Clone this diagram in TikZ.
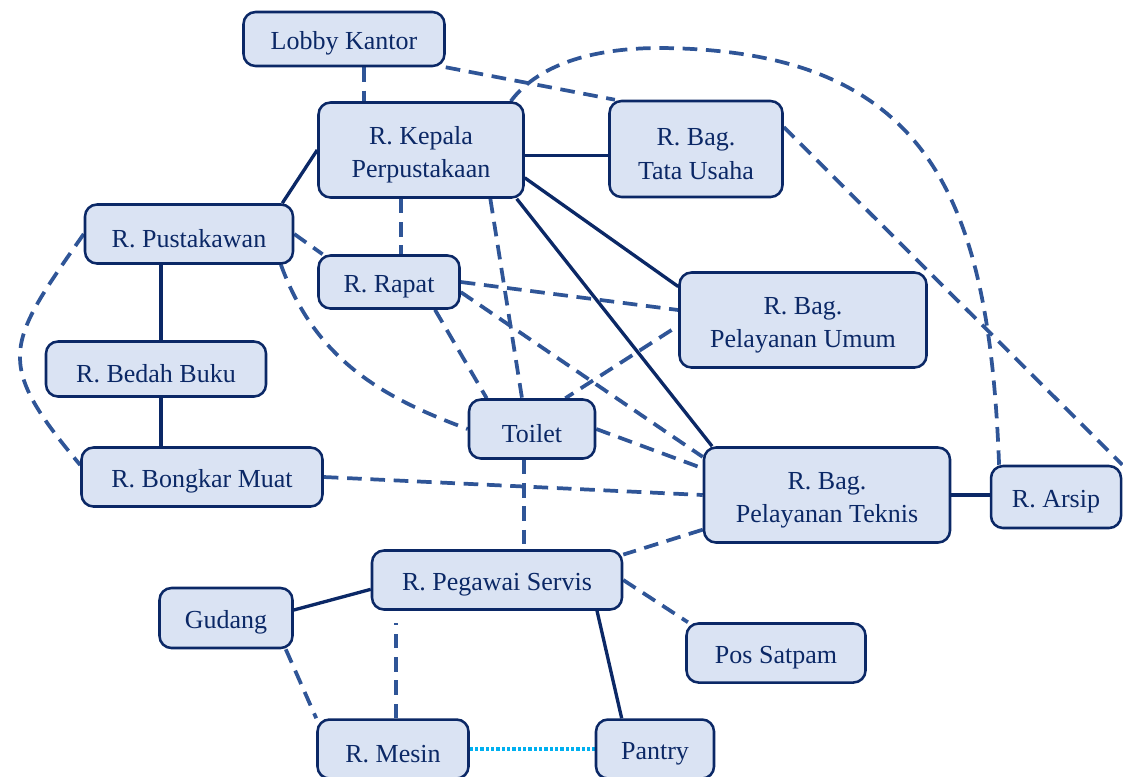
\documentclass[tikz,border=0pt]{standalone}
\usepackage{fontspec}
\setmainfont{Liberation Serif}
\usetikzlibrary{backgrounds}

\definecolor{roomfill}{HTML}{DAE3F3}
\definecolor{roomline}{HTML}{0B2866}
\definecolor{linkblue}{HTML}{2F5597}
\definecolor{linkcyan}{HTML}{00B0F0}

% Strut that lowers the text a little in its box
\newcommand{\roomstrut}{\rule{0pt}{20.5pt}}

\tikzset{
  room/.style 2 args={draw=roomline, fill=roomfill, text=roomline, line width=1.9pt,
    rounded corners=9pt, minimum width=#1, minimum height=#2, inner sep=0pt,
    align=center, font=\fontsize{19.5}{25}\selectfont},
  solidlink/.style={draw=roomline, line width=2.5pt},
  dashlink/.style={draw=linkblue, line width=2.8pt, dash pattern=on 11pt off 6.5pt},
  dotlink/.style={draw=linkcyan, line width=2.8pt, dash pattern=on 2.5pt off 1.5pt},
}

\begin{document}
\begin{tikzpicture}[x=0.75pt, y=-0.75pt]

% Page frame
\clip (0,0) rectangle (1123,776);

% Rooms
\node[room={150.75pt}{40.5pt}] (lobby) at (344,39) {\roomstrut Lobby Kantor};
\node[room={153.75pt}{71.25pt}] (kepala) at (421,150) {\roomstrut R. Kepala\\Perpustakaan};
\node[room={129.75pt}{72pt}] (tu) at (696,149) {\roomstrut R. Bag.\\Tata Usaha};
\node[room={156pt}{44.25pt}] (pustakawan) at (189,234) {\roomstrut R. Pustakawan};
\node[room={105.75pt}{39.75pt}] (rapat) at (389,282) {\roomstrut R. Rapat};
\node[room={185.25pt}{71.25pt}] (umum) at (803,320) {\roomstrut R. Bag.\\Pelayanan Umum};
\node[room={165pt}{41.25pt}] (bedah) at (156,369) {\roomstrut R. Bedah Buku};
\node[room={94.5pt}{44.25pt}] (toilet) at (532,429) {\roomstrut Toilet};
\node[room={180.75pt}{44.25pt}] (bongkar) at (202,477) {\roomstrut R. Bongkar Muat};
\node[room={184.5pt}{71.25pt}] (teknis) at (827,495) {\roomstrut R. Bag.\\Pelayanan Teknis};
\node[room={97.5pt}{46.5pt}] (arsip) at (1056,497) {\roomstrut R. Arsip};
\node[room={187.5pt}{44.25pt}] (servis) at (497,580) {\roomstrut R. Pegawai Servis};
\node[room={99.75pt}{45pt}] (gudang) at (226,618) {\roomstrut Gudang};
\node[room={134.25pt}{44.25pt}] (satpam) at (776,653) {\roomstrut Pos Satpam};
\node[room={113.25pt}{44.25pt}] (mesin) at (393,749) {\roomstrut R. Mesin};
\node[room={88.5pt}{44.25pt}] (pantry) at (655,749) {\roomstrut Pantry};

% Bend of the long link to the archive
\coordinate (arsipbend) at (660,48);

\begin{scope}[on background layer]
% Solid links
\draw[solidlink] ([yshift=-4pt]kepala.east) -- ([yshift=-4pt]kepala.east -| tu.west);
\draw[solidlink] (kepala.west) -- ([xshift=-9pt]pustakawan.north east);
\draw[solidlink] (kepala.-15) -- (umum.165);
\draw[solidlink] (kepala.-27) -- (teknis.157);
\draw[solidlink] ([xshift=-21pt]pustakawan.south) -- ([xshift=-21pt]pustakawan.south |- bedah.north);
\draw[solidlink] ([xshift=3.75pt]bedah.south) -- ([xshift=3.75pt]bedah.south |- bongkar.north);
\draw[solidlink] (teknis.east) -- (teknis.east -| arsip.west);
\draw[solidlink] ([yshift=-7pt]servis.west) -- ([yshift=6pt]gudang.east);
\draw[solidlink] ([xshift=75pt]servis.south) -- ([xshift=-25pt]pantry.north);

% Dashed links
\draw[dashlink] ([xshift=15pt]lobby.south) -- ([xshift=15pt]lobby.south |- kepala.north);
\draw[dashlink] (lobby.south east) -- ([xshift=5pt]tu.north west);
\draw[dashlink] ([xshift=-10.5pt]kepala.north east) .. controls +(30,-40) and +(-60,0) .. (arsipbend)
  .. controls +(270,2) and +(-10,-266) .. ([xshift=7pt]arsip.north west);
\draw[dashlink] (tu.14) -- (arsip.north east);
\draw[dashlink] ([xshift=-15pt]kepala.south) -- ([xshift=-15pt]kepala.south |- rapat.north);
\draw[dashlink] ([xshift=52pt]kepala.south) -- ([xshift=-7.5pt]toilet.north);
\draw[dashlink] (pustakawan.east) -- ([xshift=4pt]rapat.north west);
\draw[dashlink] ([xshift=-10pt]pustakawan.south east) to[out=-70, in=160] (toilet.west);
\draw[dashlink] (pustakawan.west) to[out=235, in=130, looseness=1.5] ([yshift=9pt]bongkar.west);
\draw[dashlink] (rapat.east) -- ([yshift=7.5pt]umum.west);
\draw[dashlink] ([xshift=34.5pt]rapat.south) -- ([xshift=-34pt]toilet.north);
\draw[dashlink] (rapat.-8) -- ([yshift=-8pt]teknis.north west);
\draw[dashlink] ([yshift=-7.5pt,xshift=-5pt]umum.west) -- ([xshift=25pt]toilet.north);
\draw[dashlink] (toilet.east) -- ([yshift=20pt]teknis.west);
\draw[dashlink] (bongkar.east) -- (teknis.west);
\draw[dashlink] ([xshift=-6pt]toilet.south) -- ([xshift=-6pt]toilet.south |- servis.north);
\draw[dashlink] ([yshift=-26pt]teknis.west) -- ([yshift=-4pt]servis.north east);
\draw[dashlink] (servis.east) -- ([xshift=2pt]satpam.north west);
\draw[dashlink] ([xshift=-6pt]gudang.south east) -- (mesin.north west);
\draw[dashlink] ([xshift=2pt]mesin.north) -- ([xshift=2pt,yshift=-9pt]mesin.north |- servis.south);

% Dotted link
\draw[dotlink] (mesin.east) -- (pantry.west);
\end{scope}

\end{tikzpicture}
\end{document}
